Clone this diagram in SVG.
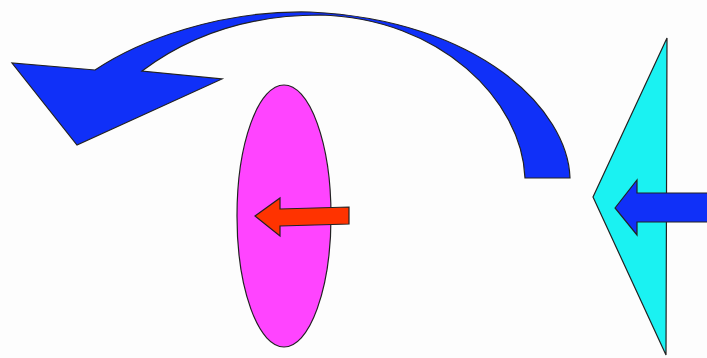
<svg xmlns="http://www.w3.org/2000/svg" width="707" height="358" viewBox="0 0 707 358">
<style>
.sh{stroke:#222;stroke-width:1.2;stroke-linejoin:miter}
.blue{fill:#1030f8}
.mag{fill:#ff44ff}
.red{fill:#ff3300}
.cyan{fill:#1af2f2}
</style>
<rect width="707" height="358" fill="#fdfdfd"/>
<g id="curved-arrow">
<path class="sh blue" d="M525,178 L570,178 C568,110 480,20 310,12 C220,10 140,40 95,70 L12,63 L77,145 L222,79 L142,71 C190,35 250,15 320,15 C440,18 522,100 525,178 Z"/>
</g>
<g id="ellipse">
<ellipse class="sh mag" cx="284" cy="216" rx="47" ry="131"/>
</g>
<g id="red-arrow">
<path class="sh red" d="M255,216 L280,198 L280,209 L349,207 L349,224 L280,226 L280,236 Z"/>
</g>
<g id="triangle">
<path class="sh cyan" d="M667,38 L593,197 L666,355 Z"/>
</g>
<g id="blue-arrow">
<path class="sh blue" d="M615,208 L637,180 L637,193 L708,193 L708,222 L637,222 L637,235 Z"/>
</g>
</svg>
